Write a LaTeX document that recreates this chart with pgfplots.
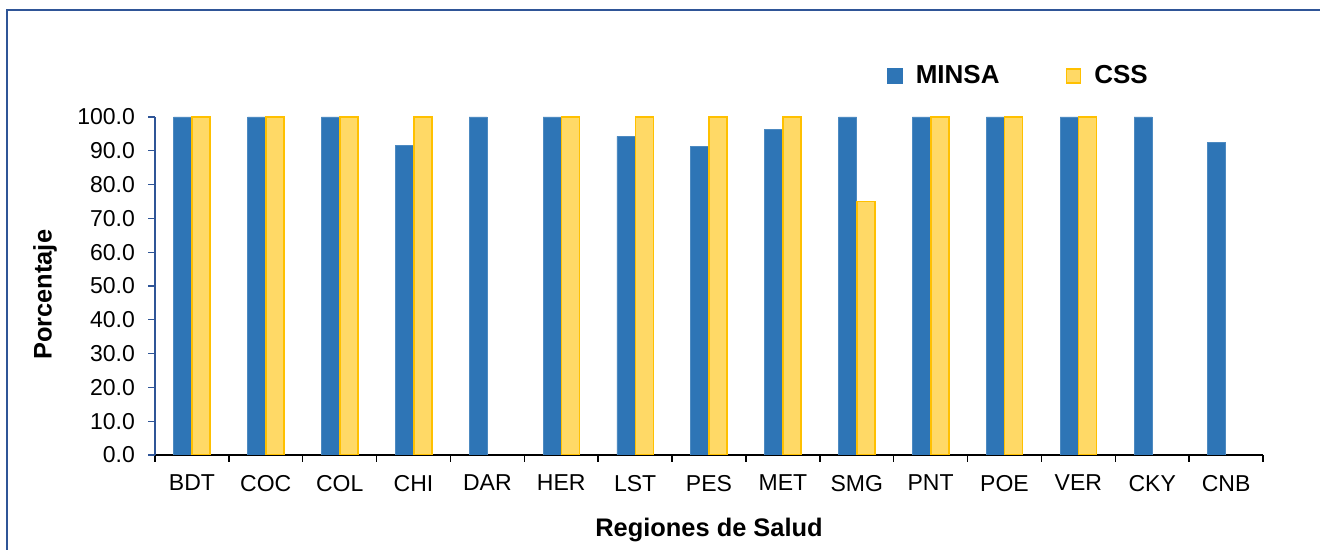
\documentclass[border=0pt]{standalone}
\usepackage{fontspec}
\setmainfont{Liberation Sans}
\usepackage{pgfplots}
\pgfplotsset{compat=1.18}
\definecolor{minsa}{HTML}{2E75B6}
\definecolor{cssfill}{HTML}{FFD966}
\definecolor{cssedge}{HTML}{FFC000}
\definecolor{framec}{HTML}{2F5597}
\begin{document}
\begin{tikzpicture}
\path[use as bounding box] (0,0) rectangle (660pt,275pt);
\draw[framec, line width=1pt] (3.5pt,-2pt) -- (3.5pt,270pt) -- (662pt,270pt);
\begin{axis}[
  at={(77.5pt,47.5pt)}, anchor=south west,
  scale only axis, width=554pt, height=169pt,
  xmin=-0.5, xmax=14.5, ymin=0, ymax=100,
  ybar, bar width=9pt,
  axis x line=bottom, axis y line=left,
  axis line style={-},
  x axis line style={black, line width=0.75pt},
  y axis line style={framec, line width=0.6pt},
  xtick={-0.5,0.5,...,14.5},
  x tick label as interval=true,
  xticklabels={BDT,COC,COL,CHI,DAR,HER,LST,PES,MET,SMG,PNT,POE,VER,CKY,CNB},
  tick align=outside,
  major tick length=3.5pt,
  x tick style={black, line width=0.75pt},
  y tick style={framec, line width=0.6pt},
  ytick={0,10,...,100},
  /pgf/number format/assume math mode=true,
  yticklabel={\pgfmathprintnumber[fixed,fixed zerofill,precision=1]{\tick}},
  ticklabel style={font=\fontsize{11.5}{13}\selectfont},
  yticklabel style={xshift=-3pt},
  xticklabel style={yshift=-3pt},
  xlabel={Regiones de Salud},
  ylabel={Porcentaje},
  every axis x label/.style={at={(axis description cs:0.5,-0.222)}, anchor=center, font=\bfseries\fontsize{12.7}{14}\selectfont},
  every axis y label/.style={at={(axis description cs:-0.0993,0.474)}, rotate=90, anchor=center, font=\bfseries\fontsize{12.7}{14}\selectfont},
  legend style={at={(rel axis cs:0.6606,1)}, anchor=west, yshift=20.5pt, draw=none, fill=none, inner sep=0pt,
    font=\bfseries\fontsize{13}{15}\selectfont,
    /tikz/every even column/.append style={column sep=31pt}},
  legend columns=2,
]
\addplot[fill=minsa, draw=minsa!85!white, line width=0.4pt, bar shift=-4.6pt,
  legend image code/.code={\draw[fill=minsa, draw=minsa] (0pt,-3.75pt) rectangle (7.5pt,3.75pt); \path[draw=none,fill=none] (0pt,0pt) rectangle (12pt,0.1pt);}]
  coordinates {(0,100) (1,100) (2,100) (3,91.6) (4,100) (5,100) (6,94.3) (7,91.2) (8,96.3) (9,100) (10,100) (11,100) (12,100) (13,100) (14,92.4)};
\addlegendentry{MINSA}
\addplot[fill=cssfill, draw=cssedge, line width=0.8pt, bar shift=4.6pt,
  legend image code/.code={\draw[fill=cssfill, draw=cssedge, line width=0.8pt] (0pt,-3.5pt) rectangle (7pt,3.5pt); \path[draw=none,fill=none] (0pt,0pt) rectangle (12pt,0.1pt);}]
  coordinates {(0,100) (1,100) (2,100) (3,100) (5,100) (6,100) (7,100) (8,100) (9,75) (10,100) (11,100) (12,100)};
\addlegendentry{CSS}
\end{axis}
\end{tikzpicture}
\end{document}
